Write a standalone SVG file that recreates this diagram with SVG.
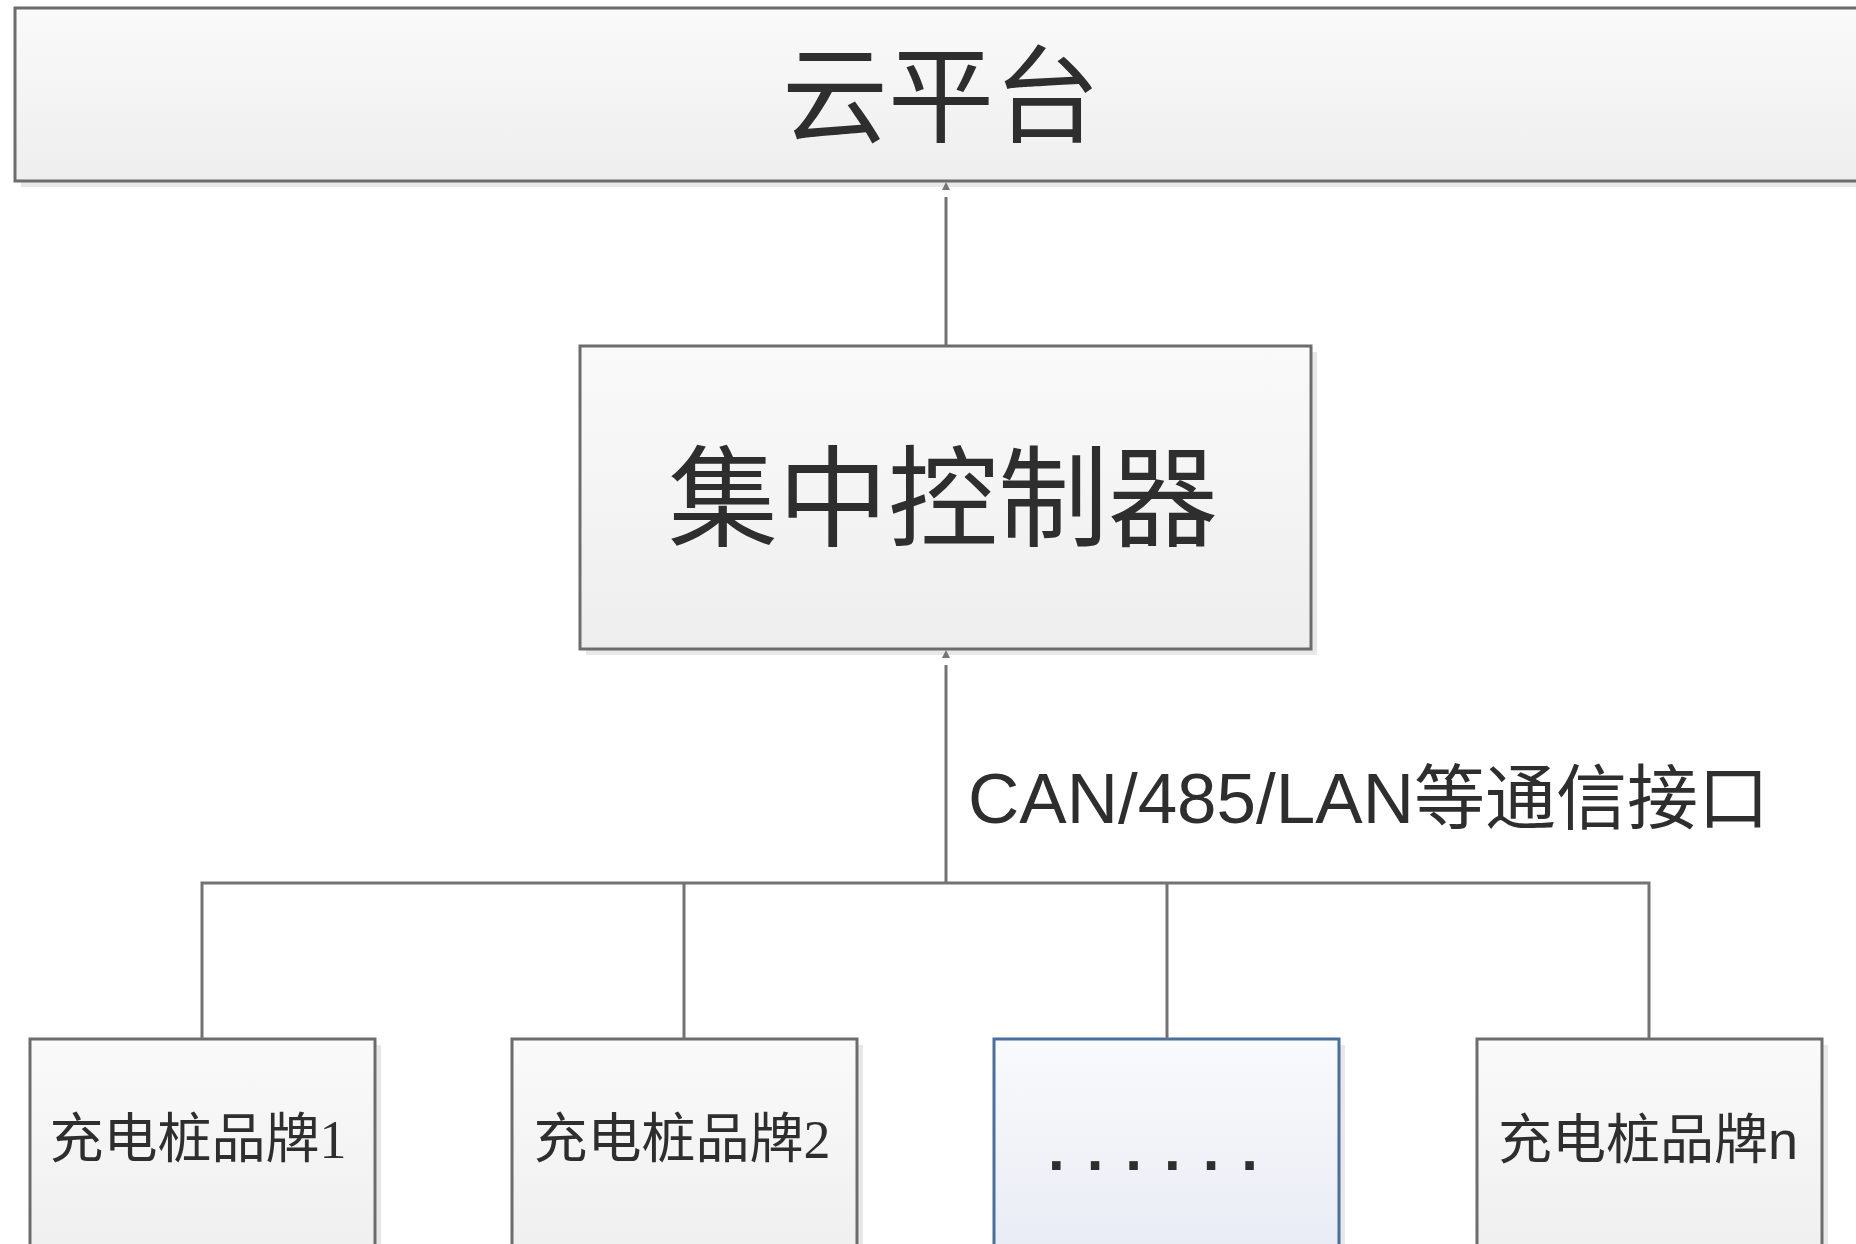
<svg xmlns="http://www.w3.org/2000/svg" width="1856" height="1244" viewBox="0 0 1856 1244">
<style>
.box{stroke:#6c6c6c;stroke-width:3;fill:url(#g)}
.blue{stroke:#4a6f9e;stroke-width:3;fill:url(#gb)}
.sh{fill:#e8e8e8}
.ln{stroke:#737373;stroke-width:3;fill:none}
.cjk{font-family:"Noto Sans CJK SC",sans-serif;fill:#2e2e2e;text-anchor:middle;dominant-baseline:central}
.lbl{font-family:"Liberation Sans","Noto Sans CJK SC",sans-serif;fill:#2e2e2e}
.brand{font-family:"Liberation Serif","Noto Sans CJK SC",serif;font-size:54px;fill:#2e2e2e;text-anchor:middle;dominant-baseline:central}
.brandn{font-family:"Liberation Sans","Noto Sans CJK SC",sans-serif;font-size:54px;fill:#2e2e2e;text-anchor:middle;dominant-baseline:central}
</style>
<defs>
<linearGradient id="g" x1="0" y1="0" x2="0" y2="1"><stop offset="0" stop-color="#fafafa"/><stop offset="1" stop-color="#eeeeee"/></linearGradient>
<linearGradient id="gb" x1="0" y1="0" x2="0" y2="1"><stop offset="0" stop-color="#f9fafc"/><stop offset="1" stop-color="#e6eaf3"/></linearGradient>
<marker id="arr" markerUnits="userSpaceOnUse" markerWidth="30" markerHeight="30" refX="0" refY="0" viewBox="-15 -15 30 30" orient="auto" overflow="visible"><path d="M7,-4 L15,0 L7,4 Z" fill="#767676"/></marker>
</defs>
<rect width="1856" height="1244" fill="#ffffff"/>
<g id="cloud">
<rect class="sh" x="21" y="14" width="1900" height="173"/>
<rect class="box" x="15" y="8" width="1900" height="173"/>
<text class="cjk" x="941" y="88" font-size="106">云平台</text>
</g>
<g id="controller">
<rect class="sh" x="586" y="352" width="731" height="303"/>
<rect class="box" x="580" y="346" width="731" height="303"/>
<text class="cjk" x="943" y="490" font-size="110">集中控制器</text>
</g>
<g id="brand1">
<rect class="sh" x="36" y="1045" width="345" height="240"/>
<rect class="box" x="30" y="1039" width="345" height="240"/>
<text class="brand" x="198" y="1140">充电桩品牌1</text>
</g>
<g id="brand2">
<rect class="sh" x="518" y="1045" width="345" height="240"/>
<rect class="box" x="512" y="1039" width="345" height="240"/>
<text class="brand" x="682" y="1140">充电桩品牌2</text>
</g>
<g id="more">
<rect class="sh" x="1000" y="1045" width="345" height="240"/>
<rect class="blue" x="994" y="1039" width="345" height="240"/>
<text class="lbl" x="1048" y="1170" font-size="60" font-weight="bold" fill="#1e1e1e" letter-spacing="22">......</text>
</g>
<g id="brandn">
<rect class="sh" x="1483" y="1045" width="345" height="240"/>
<rect class="box" x="1477" y="1039" width="345" height="240"/>
<text class="brandn" x="1648" y="1140">充电桩品牌n</text>
</g>
<g id="connectors">
<line class="ln" x1="946" y1="346" x2="946" y2="197" marker-end="url(#arr)"/>
<line class="ln" x1="946" y1="883" x2="946" y2="665" marker-end="url(#arr)"/>
<polyline class="ln" points="202,1039 202,883 1649,883 1649,1039"/>
<line class="ln" x1="684" y1="883" x2="684" y2="1039"/>
<line class="ln" x1="1167" y1="883" x2="1167" y2="1039"/>
<text class="lbl" x="968" y="823" font-size="71">CAN/485/LAN等通信接口</text>
</g>
</svg>
